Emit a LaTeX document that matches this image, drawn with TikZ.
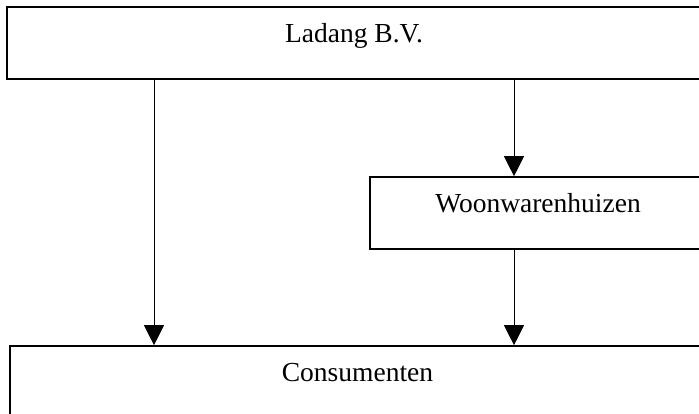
\documentclass[tikz,border=0pt]{standalone}
\usepackage{fontspec}
\setmainfont{Liberation Serif}
\usepackage{tikz}
\usetikzlibrary{arrows.meta}
\tikzstyle{blok}=[rectangle, draw=black, line width=1.6pt, inner sep=0pt, text height=36pt, text depth=36pt, font=\fontsize{27.5}{33}\selectfont]
\tikzstyle{pijl}=[line width=1pt, -{Triangle[length=20pt, width=20pt]}]

\begin{document}
\begin{tikzpicture}[x=1pt, y=1pt]
    \useasboundingbox (0,0) rectangle (699,414);
    \clip (0,0) rectangle (699,414);

    \node[blok, minimum width=694pt] (ladang) at (354,371) {Ladang B.V.};
    \node[blok, minimum width=336pt] (woon) at (538,201) {Woonwarenhuizen};
    \node[blok, minimum width=695pt] (consumenten) at (357.5,32) {Consumenten};

    % pijlen naar beneden
    \coordinate (links) at (154,0);
    \coordinate (rechts) at (514,0);
    \draw[pijl] (ladang.south -| links) -- (consumenten.north -| links);
    \draw[pijl] (ladang.south -| rechts) -- (woon.north -| rechts);
    \draw[pijl] (woon.south -| rechts) -- (consumenten.north -| rechts);
\end{tikzpicture}
\end{document}
